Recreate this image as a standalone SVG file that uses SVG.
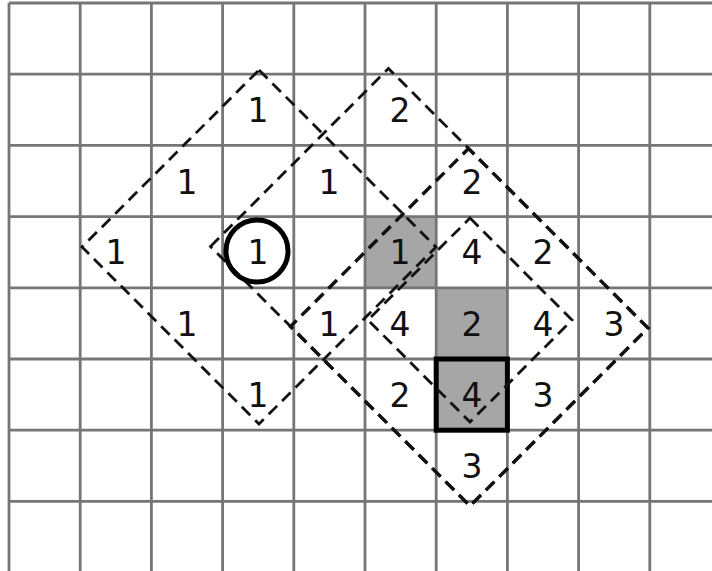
<svg xmlns="http://www.w3.org/2000/svg" width="712" height="571" viewBox="0 0 712 571">
<style>
.grid line{stroke:#767676;stroke-width:2.8}
.cell{fill:#a6a6a6}
.region{fill:none;stroke:#111;stroke-width:2.8;stroke-dasharray:12 7}
.lbl{font-family:"DejaVu Sans","Liberation Sans",sans-serif;font-size:33px;fill:#111;text-anchor:middle}
</style>
<rect width="712" height="571" fill="#fff"/>
<g id="shaded-cells">
<rect class="cell" x="365" y="216.6" width="71.2" height="71.2"/>
<rect class="cell" x="436.2" y="287.8" width="71.2" height="71.2"/>
<rect class="cell" x="436.2" y="359" width="71.2" height="71.2"/>
</g>
<g id="grid" class="grid">
<line x1="9" y1="3" x2="9" y2="571"/>
<line x1="80.2" y1="3" x2="80.2" y2="571"/>
<line x1="151.4" y1="3" x2="151.4" y2="571"/>
<line x1="222.6" y1="3" x2="222.6" y2="571"/>
<line x1="293.8" y1="3" x2="293.8" y2="571"/>
<line x1="365" y1="3" x2="365" y2="571"/>
<line x1="436.2" y1="3" x2="436.2" y2="571"/>
<line x1="507.4" y1="3" x2="507.4" y2="571"/>
<line x1="578.6" y1="3" x2="578.6" y2="571"/>
<line x1="649.8" y1="3" x2="649.8" y2="571"/>
<line x1="9" y1="3" x2="712" y2="3"/>
<line x1="9" y1="74.2" x2="712" y2="74.2"/>
<line x1="9" y1="145.4" x2="712" y2="145.4"/>
<line x1="9" y1="216.6" x2="712" y2="216.6"/>
<line x1="9" y1="287.8" x2="712" y2="287.8"/>
<line x1="9" y1="359" x2="712" y2="359"/>
<line x1="9" y1="430.2" x2="712" y2="430.2"/>
<line x1="9" y1="501.4" x2="712" y2="501.4"/>
</g>
<g id="target-cell">
<rect x="436.2" y="359" width="71.2" height="71.2" fill="none" stroke="#000" stroke-width="5"/>
</g>
<g id="regions">
<polygon id="region-a" class="region" points="259,70 436,247 259,424 82,247"/>
<path id="region-b" class="region" d="M210.5,246.5 L388.5,68.5 L468.5,148.5 L648,328 L470,506 Z"/>
<path id="region-d" class="region" style="stroke-width:3.4;stroke-dashoffset:3.9" d="M468.5,148.5 L648,328 L470,506 L290.5,326.5 Z"/>
<polygon id="region-c" class="region" points="470,218 572,320 470,422 368,320"/>
</g>
<g id="start-marker">
<circle cx="257" cy="251" r="31" fill="none" stroke="#000" stroke-width="5"/>
</g>
<g id="labels">
<text class="lbl" x="258" y="122">1</text>
<text class="lbl" x="400" y="122">2</text>
<text class="lbl" x="187" y="194">1</text>
<text class="lbl" x="329" y="194">1</text>
<text class="lbl" x="472" y="194">2</text>
<text class="lbl" x="116" y="264">1</text>
<text class="lbl" x="258" y="264">1</text>
<text class="lbl" x="400" y="264">1</text>
<text class="lbl" x="472" y="264">4</text>
<text class="lbl" x="543" y="264">2</text>
<text class="lbl" x="187" y="336">1</text>
<text class="lbl" x="329" y="336">1</text>
<text class="lbl" x="400" y="336">4</text>
<text class="lbl" x="472" y="336">2</text>
<text class="lbl" x="543" y="336">4</text>
<text class="lbl" x="614" y="336">3</text>
<text class="lbl" x="258" y="407">1</text>
<text class="lbl" x="400" y="407">2</text>
<text class="lbl" x="472" y="407">4</text>
<text class="lbl" x="543" y="407">3</text>
<text class="lbl" x="472" y="478">3</text>
</g>
</svg>
